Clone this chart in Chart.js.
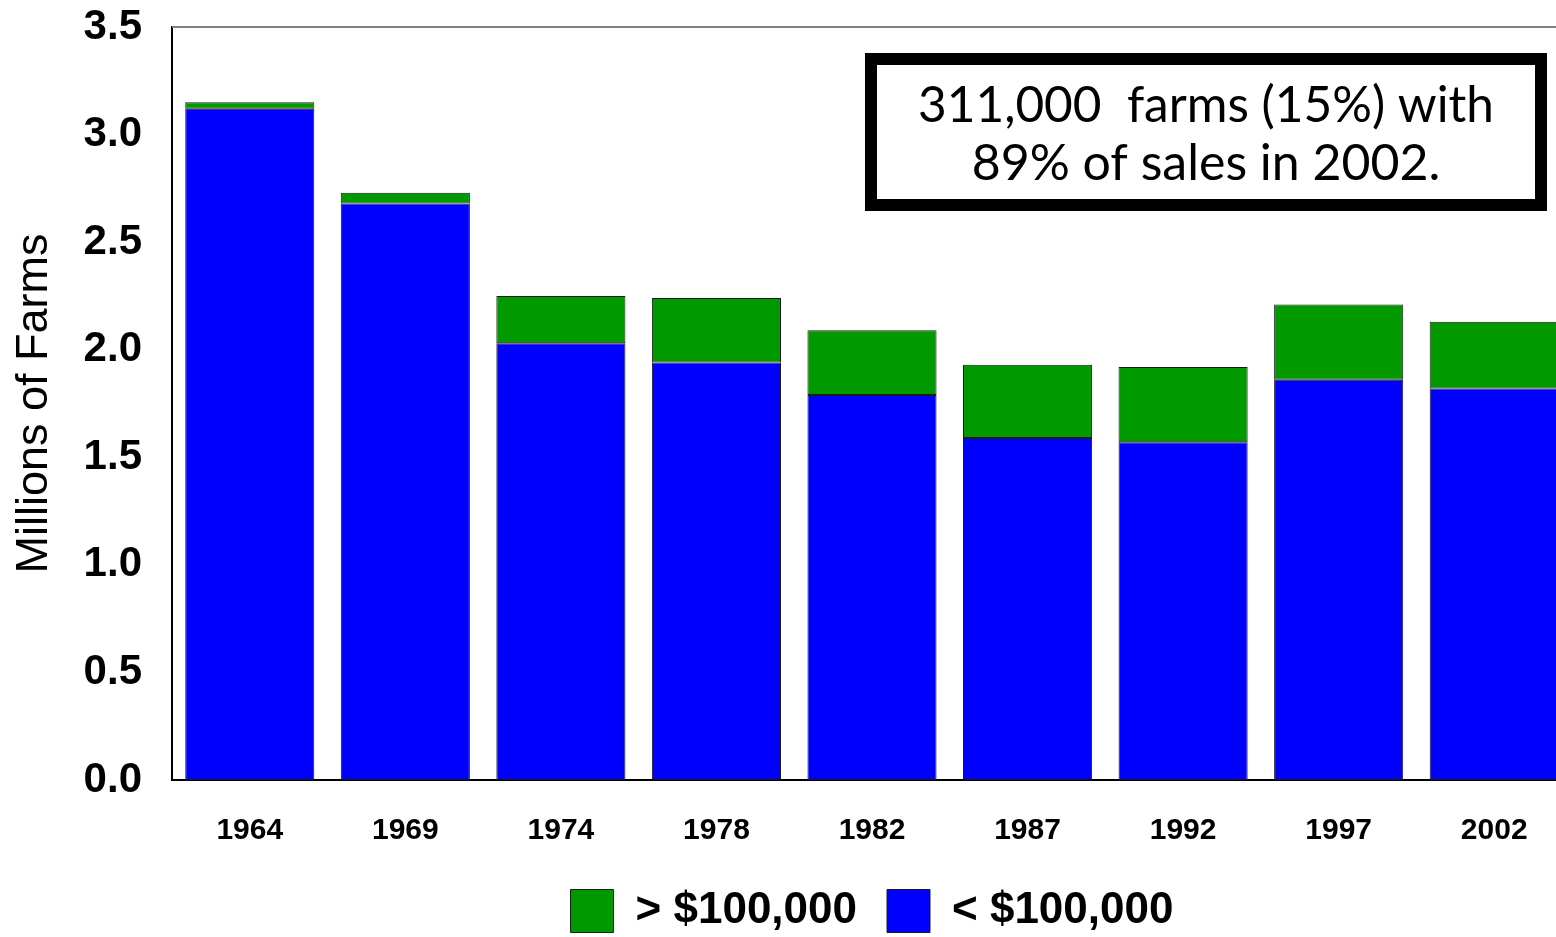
<!DOCTYPE html>
<html>
<head>
<meta charset="utf-8">
<script src="https://cdn.jsdelivr.net/npm/chart.js@4"></script>
<style>
  body { margin: 0; background: #fff; overflow: hidden; }
  #wrap { width: 1572px; height: 937px; }
</style>
</head>
<body>
<div id="wrap"><canvas id="farms" width="1572" height="937"></canvas></div>
<script>
const years = ['1964', '1969', '1974', '1978', '1982', '1987', '1992', '1997', '2002'];
const under100k = [3.12, 2.68, 2.03, 1.94, 1.79, 1.59, 1.57, 1.86, 1.82];
const over100k = [0.03, 0.05, 0.22, 0.30, 0.30, 0.34, 0.35, 0.35, 0.31];
const noteLines = ['311,000  farms (15%) with', '89% of sales in 2002.'];

const frame = {
    id: 'frame',
    afterLayout(chart) {
        // centre the legend under the plot, not the canvas
        const lg = chart.legend;
        const area = chart.chartArea;
        const dx = (area.left + area.right) / 2 - (lg.left + lg.right) / 2;
        lg.left += dx;
        lg.right += dx;
        lg.top += 10;
        lg.bottom += 10;
    },
    afterDraw(chart) {
        const ctx = chart.ctx;
        const area = chart.chartArea;
        ctx.save();
        ctx.strokeStyle = '#808080';
        ctx.lineWidth = 2;
        ctx.beginPath();
        ctx.moveTo(area.left, area.top);
        ctx.lineTo(chart.width, area.top);
        ctx.stroke();

        // note box
        ctx.strokeStyle = '#000';
        ctx.lineWidth = 12;
        ctx.fillStyle = '#fff';
        ctx.fillRect(871, 59, 670, 146);
        ctx.strokeRect(871, 59, 670, 146);
        ctx.fillStyle = '#000';
        ctx.font = '50px Lato, "DejaVu Sans", sans-serif';
        ctx.textAlign = 'center';
        ctx.textBaseline = 'alphabetic';
        ctx.fillText(noteLines[0], 1206, 122, 576);
        ctx.fillText(noteLines[1], 1206, 180, 576);
        ctx.restore();
    }
};

new Chart(document.getElementById('farms'), {
    type: 'bar',
    data: {
        labels: years,
        datasets: [
            {
                label: '< $100,000',
                data: under100k,
                backgroundColor: '#0000ff',
                borderColor: '#1a1a1a',
                borderWidth: 1,
                borderSkipped: false,
            },
            {
                label: '> $100,000',
                data: over100k,
                backgroundColor: '#009900',
                borderColor: '#1a1a1a',
                borderWidth: 1,
                borderSkipped: false,
            },
        ],
    },
    options: {
        responsive: false,
        animation: false,
        layout: { padding: { top: 0, right: 0, bottom: 4, left: 0 } },
        datasets: { bar: { categoryPercentage: 1, barPercentage: 0.83 } },
        plugins: {
            legend: {
                position: 'bottom',
                reverse: true,
                labels: {
                    color: '#000',
                    boxWidth: 43,
                    boxHeight: 43,
                    padding: 30,
                    font: { family: '"Liberation Sans", Arial, sans-serif', size: 44, weight: 'bold' },
                },
            },
            tooltip: { enabled: false },
        },
        scales: {
            x: {
                stacked: true,
                afterFit(scale) { scale.height = scale.height - 33; },
                grid: { display: false, drawTicks: false },
                border: { display: true, color: '#000', width: 2 },
                ticks: {
                    color: '#000',
                    padding: 33,
                    font: { family: '"Liberation Sans", Arial, sans-serif', size: 30, weight: 'bold' },
                },
            },
            y: {
                stacked: true,
                min: 0,
                max: 3.5,
                afterFit(scale) {
                    scale.width = 172;
                    scale.paddingTop = 27;
                    scale.paddingBottom = 0;
                },
                grid: { display: false, drawTicks: false },
                border: { display: true, color: '#000', width: 2 },
                ticks: {
                    stepSize: 0.5,
                    color: '#000',
                    padding: 30,
                    font: { family: '"Liberation Sans", Arial, sans-serif', size: 42, weight: 'bold' },
                    callback: (v) => Number(v).toFixed(1),
                },
                title: {
                    display: true,
                    text: 'Millions of Farms',
                    color: '#000',
                    padding: { top: 8, bottom: 0 },
                    font: { family: '"Liberation Sans", Arial, sans-serif', size: 45 },
                },
            },
        },
    },
    plugins: [frame],
});
</script>
</body>
</html>
